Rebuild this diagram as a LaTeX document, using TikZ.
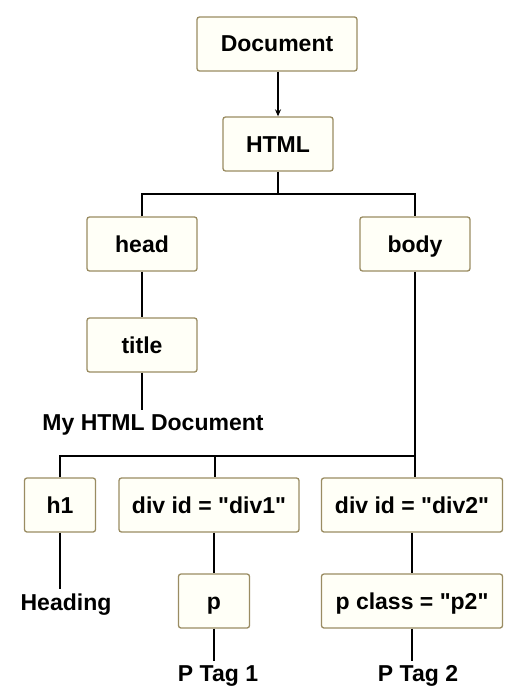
\documentclass[tikz,border=0pt]{standalone}
\usepackage{fontspec}
\setmainfont{Liberation Sans}[Ligatures=TeXOff]
\usetikzlibrary{arrows.meta}
\definecolor{boxc}{HTML}{9A8C62}
\definecolor{boxf}{HTML}{FFFFF7}
\begin{document}
\begin{tikzpicture}[x=1pt,y=-1pt,
  box/.style={draw=boxc, fill=boxf, line width=1.3pt, rounded corners=2.5pt,
    minimum height=54pt, inner sep=0pt, text height=16pt, text depth=0pt,
    font=\bfseries\fontsize{23}{27}\selectfont},
  lbl/.style={font=\bfseries\fontsize{23}{27}\selectfont, inner sep=4pt, anchor=base},
  link/.style={line width=1.6pt, black}]
\useasboundingbox (0,0) rectangle (508,690);
\fill[white] (0,0) rectangle (508,690);

\node[box, minimum width=160pt] (doc) at (277,44) {Document};
\node[box, minimum width=110pt] (html) at (278,144) {HTML};
\node[box, minimum width=110pt] (head) at (142,244) {head};
\node[box, minimum width=110pt] (body) at (415,244) {body};
\node[box, minimum width=110pt] (title) at (142,345) {title};
\node[lbl] (mytext) at (153,430) {My HTML Document};

\node[box, minimum width=71pt] (h1) at (60,505) {h1};
\node[box, minimum width=180pt] (div1) at (209,505) {div id = "div1"};
\node[box, minimum width=181pt] (div2) at (412,505) {div id = "div2"};
\node[lbl] (heading) at (66,610) {Heading};
\node[box, minimum width=71pt] (p) at (214,601) {p};
\node[box, minimum width=181pt] (p2) at (412,601) {p class = "p2"};
\node[lbl] (pt1) at (218,681) {P Tag 1};
\node[lbl] (pt2) at (418,681) {P Tag 2};

\coordinate (j1) at (278,194);
\coordinate (j2) at (415,456);
\coordinate (j3) at (215,456);

\draw[link, -{Stealth[length=7pt,width=6pt]}] (html.north |- doc.south) -- (html.north);
\draw[link] (html.south) -- (j1);
\draw[link] (head.north) |- (j1) -| (body.north);
\draw[link] (head.south) -- (title.north);
\draw[link] (title.south) -- (title.south |- mytext.north);
\draw[link] (body.south) -- (j2);
\draw[link] (h1.north) |- (j2) -- (j2 |- div2.north);
\draw[link] (j3) -- (j3 |- div1.north);
\draw[link] (h1.south) -- (h1.south |- heading.north);
\draw[link] (p.north |- div1.south) -- (p.north);
\draw[link] (p2.north |- div2.south) -- (p2.north);
\draw[link] (p.south) -- (p.south |- pt1.north);
\draw[link] (p2.south) -- (p2.south |- pt2.north);
\end{tikzpicture}
\end{document}
